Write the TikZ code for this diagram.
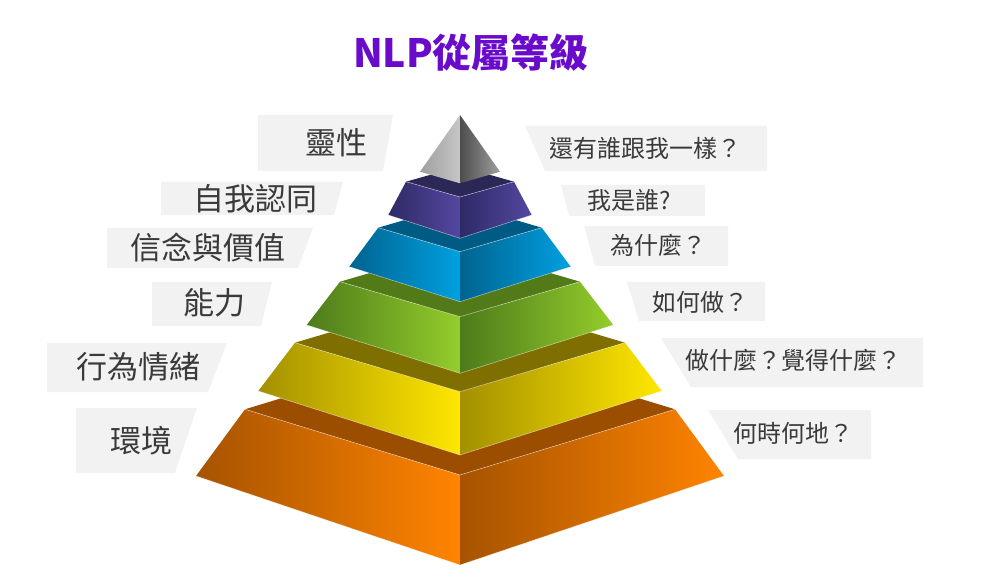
\documentclass[tikz,border=0pt]{standalone}
\usepackage{fontspec}
\setmainfont{Noto Sans CJK TC}

\definecolor{titlepurple}{HTML}{6A0BCB}
\definecolor{tagfill}{HTML}{F2F2F2}
\definecolor{labeltext}{HTML}{3A3A3A}
% slab colours: top face, dark end, bright end
\definecolor{envtop}{HTML}{9B4D00}\definecolor{envdark}{HTML}{A65300}\definecolor{envlight}{HTML}{FF8400}
\definecolor{behtop}{HTML}{7E6F00}\definecolor{behdark}{HTML}{A39000}\definecolor{behlight}{HTML}{FFE700}
\definecolor{abitop}{HTML}{537A19}\definecolor{abidark}{HTML}{4D7B1B}\definecolor{abilight}{HTML}{94CD2B}
\definecolor{beltop}{HTML}{005B84}\definecolor{beldark}{HTML}{006391}\definecolor{bellight}{HTML}{00A0DF}
\definecolor{idetop}{HTML}{2B2757}\definecolor{idedark}{HTML}{2E2A66}\definecolor{idelight}{HTML}{5447A0}

\tikzset{
  tagbox/.style={fill=tagfill},
  leftlabel/.style={font=\fontsize{31}{36}\selectfont,text=labeltext,inner sep=0pt},
  rightlabel/.style={font=\fontsize{24}{28}\selectfont,text=labeltext,inner sep=0pt,anchor=west},
  edgeglow/.style={white,opacity=0.5,line width=0.6pt},
}

% one slab: top-left x/y, front top y, bottom-left x/y, front bottom y, top colour, dark, bright
\newcommand\pyrlayer[9]{%
  \fill[#7] (#1,#2) -- (460,#3) -- ({920-#1},#2) -- (460,{2*#2-#3}) -- cycle;
  \shade[left color=#8,right color=#9] (#1,#2) -- (460,#3) -- (460,#6) -- (#4,#5) -- cycle;
  \shade[left color=#8,right color=#9] (460,#3) -- ({920-#1},#2) -- ({920-#4},#5) -- (460,#6) -- cycle;
  \draw[edgeglow] (#1,#2) -- (460,#3) -- ({920-#1},#2);
  \draw[edgeglow] (#4,#5) -- (460,#6) -- ({920-#4},#5);
}

\begin{document}
\begin{tikzpicture}[x=1pt,y=-1pt]
\useasboundingbox (0,0) rectangle (985,577);

\node[font=\fontsize{39}{44}\selectfont\bfseries,text=titlepurple] (title) at (471,53) {NLP從屬等級};

% label boxes
\foreach \xa/\ya/\xb/\xc/\yb in {258/115/393/383/171, 161/182/343/334/215, 107/228/313/298/268,
    152/282/272/261/326, 47/343/227/208/392, 76/408/197/175/473}
  \fill[tagbox] (\xa,\ya) -- (\xb,\ya) -- (\xc,\yb) -- (\xa,\yb) -- cycle;
\foreach \xa/\ya/\xb/\xc/\yb in {525/126/767/545/171, 561/185/705/569/216, 584/226/728/595/266,
    627/282/765/639/321, 661/338/923/691/387, 708/410/871/738/459}
  \fill[tagbox] (\xa,\ya) -- (\xb,\ya) -- (\xb,\yb) -- (\xc,\yb) -- cycle;

% pyramid, bottom slab first
\pyrlayer{245}{409.3}{475}{196}{476}{565}{envtop}{envdark}{envlight}
\pyrlayer{295}{342.7}{391.7}{258.3}{391}{455}{behtop}{behdark}{behlight}
\pyrlayer{340}{281.7}{316.7}{306.7}{325}{373.3}{abitop}{abidark}{abilight}
\pyrlayer{378.3}{227.7}{251.7}{349.3}{266.7}{301.7}{beltop}{beldark}{bellight}
\pyrlayer{406}{181.7}{197}{388.3}{215}{238.3}{idetop}{idedark}{idelight}
\shade[left color=gray!75,right color=gray!45] (460,115) -- (420,171.7) -- (460,183.3) -- cycle;
\shade[left color=gray!140,right color=gray!75] (460,115) -- (460,183.3) -- (500,171.7) -- cycle;

% left column
\node[leftlabel] (spirit)   at (336,142.5) {靈性};
\node[leftlabel] (identity) at (255,199)   {自我認同};
\node[leftlabel] (belief)   at (207.5,247.5) {信念與價值};
\node[leftlabel] (ability)  at (214,302.5) {能力};
\node[leftlabel] (behavior) at (138.5,366.7) {行為情緒};
\node[leftlabel] (environ)  at (141,440.8) {環境};

% right column
\node[rightlabel] (spiritq)   at (549.5,148) {還有誰跟我一樣？};
\node[rightlabel] (identityq) at (587,200)   {我是誰?};
\node[rightlabel] (beliefq)   at (610.5,245.8) {為什麼？};
\node[rightlabel] (abilityq)  at (652,302.5) {如何做？};
\node[rightlabel] (behaviorq) at (685.5,360.8) {做什麼？覺得什麼？};
\node[rightlabel] (environq)  at (733,433)   {何時何地？};
\end{tikzpicture}
\end{document}
